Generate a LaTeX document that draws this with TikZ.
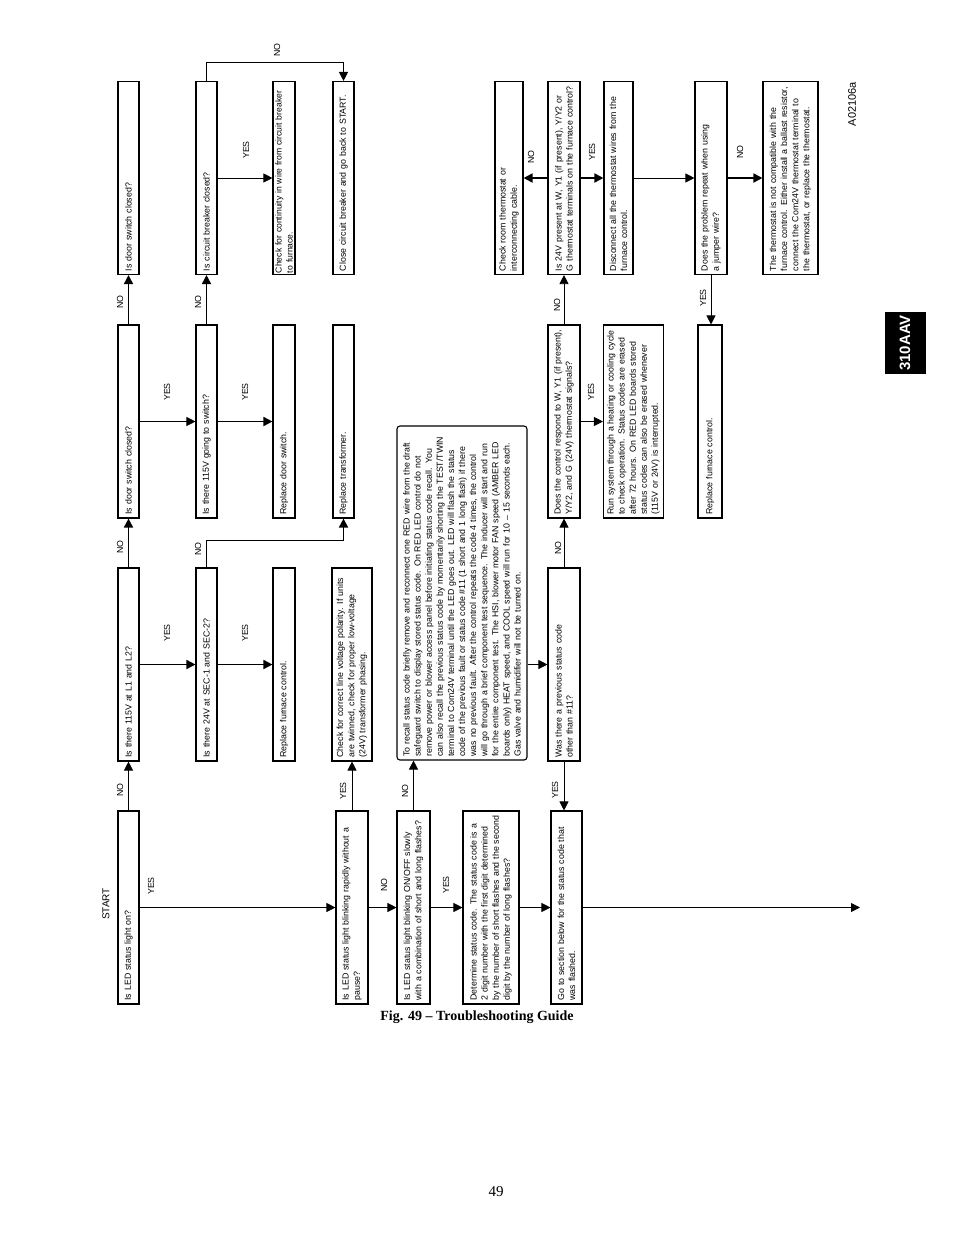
\documentclass[tikz,border=0pt]{standalone}
\usepackage{fontspec}
\setmainfont{Liberation Sans}
\newfontfamily\capserif{Liberation Serif}
\usetikzlibrary{arrows.meta}
\tikzset{>={Triangle[length=9pt,width=9pt]}}
\newcommand{\flowfont}{\fontsize{8.8}{11.1}\selectfont}
\tikzset{
  box/.style={draw,rotate=90,line width=1.1pt,text width=186pt,inner xsep=3.5pt,inner ysep=0pt,align=left,font=\flowfont},
  lab/.style={rotate=90,font=\flowfont,inner sep=0pt},
  arr/.style={->,line width=0.8pt},
  arrbold/.style={->,line width=1.7pt},
}
\begin{document}
\begin{tikzpicture}[x=1pt,y=1pt]
  \useasboundingbox (0,0) rectangle (954,-1235);

  % power checks
  \node[box,minimum height=21pt] (q1) at (128.5,-907.5) {Is LED status light on?};
  \node[box,minimum height=21pt] (q2) at (128.5,-664.5) {Is there 115V at L1 and L2?};
  \node[box,minimum height=21pt] (q3) at (128.5,-421.5) {Is door switch closed?};
  \node[box,minimum height=21pt] (q4) at (128.5,-178) {Is door switch closed?};
  \node[box,minimum height=21pt] (q5) at (206.5,-664.5) {Is there 24V at SEC-1 and SEC-2?};
  \node[box,minimum height=21pt] (q6) at (206.5,-421.5) {Is there 115V going to switch?};
  \node[box,minimum height=21pt] (q7) at (206.5,-178) {Is circuit breaker closed?};
  \node[box,minimum height=22pt] (r1) at (284,-664.5) {Replace furnace control.};
  \node[box,minimum height=22pt] (r2) at (284,-421.5) {Replace door switch.};
  \node[box,minimum height=22pt,text width=190pt,inner xsep=1.5pt,font=\fontsize{8.6}{11}\selectfont] (r3) at (284,-178) {Check for continuity in wire from circuit breaker\\to furnace.};
  \node[box,minimum height=40pt] (r4) at (352,-664.5) {Check for correct line voltage polarity.  If units\\are twinned, check for proper low-voltage\\(24V) transformer phasing.};
  \node[box,minimum height=21pt] (r5) at (343.5,-421.5) {Replace transformer.};
  \node[box,minimum height=21pt] (r6) at (343.5,-178) {Close circuit breaker and go back to START.};

  % blinking codes
  \node[box,minimum height=32pt] (q8) at (352,-907.5) {Is LED status light blinking rapidly without a\\pause?};
  \node[box,minimum height=33pt] (q9) at (413.5,-907.5) {Is LED status light blinking ON/OFF slowly\\with a combination of short and long flashes?};
  \node[box,text width=327pt,minimum height=130pt,rounded corners=3pt] (recall) at (462,-593) {To recall status code briefly remove and reconnect one RED wire from the draft\\safeguard switch to display stored status code.  On RED LED control do not\\remove power or blower access panel before initiating status code recall.  You\\can also recall the previous status code by momentarily shorting the TEST/TWIN\\terminal to Com24V terminal until the LED goes out.  LED will flash the status\\code of the previous fault or status code \#11 (1 short and 1 long flash) if there\\was no previous fault.  After the control repeats the code 4 times, the control\\will go through a brief component test sequence.  The inducer will start and run\\for the entire component test.  The HSI, blower motor FAN speed (AMBER LED\\boards only) HEAT speed, and COOL speed will run for 10 \textendash{} 15 seconds each.\\Gas valve and humidifier will not be turned on.};
  \node[box,minimum height=56pt] (r7) at (491,-907.5) {Determine status code.  The status code is a\\2 digit number with the first digit determined\\by the number of short flashes and the second\\digit by the number of long flashes?};
  \node[box,minimum height=31pt] (r9) at (566.5,-907.5) {Go to section below for the status code that\\was flashed.};
  \node[box,minimum height=32pt] (q10) at (564,-664.5) {Was there a previous status code\\other than \#11?};

  % thermostat checks
  \node[box,minimum height=32pt] (q11) at (564,-421.5) {Does the control respond to W, Y1 (if present),\\Y/Y2, and G (24V)  thermostat signals?};
  \node[box,minimum height=32pt] (q12) at (564,-178) {Is 24V present at W, Y1 (if present), Y/Y2 or\\G thermostat terminals on the furnace control?};
  \node[box,minimum height=28pt] (r8) at (509,-178) {Check room thermostat or\\interconnecting cable.};
  \node[box,minimum height=60pt] (r10) at (633.5,-421.5) {Run system through a heating or cooling cycle\\to check operation.  Status codes are erased\\after 72 hours.  On RED LED boards stored\\status codes can also be erased whenever\\(115V or 24V) is interrupted.};
  \node[box,minimum height=29pt] (r11) at (618.5,-178) {Disconnect all the thermostat wires from the\\furnace control.};
  \node[box,minimum height=24pt] (r12) at (710,-421.5) {Replace furnace control.};
  \node[box,minimum height=32pt] (q13) at (711,-178) {Does the problem repeat when using\\a jumper wire?};
  \node[box,minimum height=55pt] (r13) at (790.5,-178) {The thermostat is not compatible with the\\furnace control.  Either install a ballast resistor,\\connect the Com24V thermostat terminal to\\the thermostat, or replace the thermostat.};

  \node[lab,font=\fontsize{10}{12}\selectfont] (start) at (106,-904) {START};
  \coordinate (tail) at (860,-903);

  % connectors
  \draw[arr] (q1) -- (q2);
  \draw[arrbold] (q2) -- (q3);
  \draw[arrbold] (q3) -- (q4);
  \draw[arr] (q1) -- (q8);
  \draw[arrbold] (q2) -- (q5);
  \draw[arrbold] (q5) -- (r1);
  \draw[arrbold] (q5.east) -- ++(0,27) -| (r5);
  \draw[arr] (q3) -- (q6);
  \draw[arrbold] (q6) -- (r2);
  \draw[arrbold] (q6) -- (q7);
  \draw[arr] (q7) -- (r3);
  \draw[arr] (q7.east) -- ++(0,19) -| (r6);
  \draw[arr] (q8) -- (q8 |- r4.west);
  \draw[arr] (q8) -- (q9);
  \draw[arr] (q9) -- (q9 |- recall.west);
  \draw[arr] (q9) -- (r7);
  \draw[arr] (r7) -- (r9);
  \draw[arr] (q10 -| recall.south) -- (q10);
  \draw[arr] (q10) -- (q10 |- r9.east);
  \draw[arr] (q10) -- (q11);
  \draw[arr] (q11) -- (r10);
  \draw[arr] (q11) -- (q12);
  \draw[arrbold] (q12) -- (r8);
  \draw[arrbold] (q12) -- (r11);
  \draw[arr] (r11) -- (q13);
  \draw[arr] (q13) -- (q13 |- r12.east);
  \draw[arrbold] (q13) -- (r13);
  \draw[arr] (r9) -- (r9 -| tail);

  % YES / NO labels
  \node[lab] (n1) at (120,-790) {NO};
  \node[lab] (n2) at (120,-547) {NO};
  \node[lab] (n3) at (120,-302) {NO};
  \node[lab] (y1) at (151,-886) {YES};
  \node[lab] (y2) at (167,-633) {YES};
  \node[lab] (y3) at (245,-633) {YES};
  \node[lab] (n4) at (198,-549) {NO};
  \node[lab] (y4) at (167,-392) {YES};
  \node[lab] (y5) at (245,-392) {YES};
  \node[lab] (n5) at (198,-302) {NO};
  \node[lab] (y6) at (246,-150) {YES};
  \node[lab] (n6) at (277,-50) {NO};
  \node[lab] (y7) at (343,-791) {YES};
  \node[lab] (n7) at (384,-885) {NO};
  \node[lab] (n8) at (405,-791) {NO};
  \node[lab] (y8) at (446,-885) {YES};
  \node[lab] (y9) at (555,-790) {YES};
  \node[lab] (n9) at (558,-548) {NO};
  \node[lab] (y10) at (591,-392) {YES};
  \node[lab] (n10) at (557,-305) {NO};
  \node[lab] (n11) at (531,-157) {NO};
  \node[lab] (y11) at (592,-152) {YES};
  \node[lab] (y12) at (703,-298) {YES};
  \node[lab] (n12) at (740,-152) {NO};

  % page furniture
  \node[lab,font=\fontsize{11}{13}\selectfont] (fignum) at (852,-104) {A02106a};
  \node[rotate=90,fill=black,text=white,font=\bfseries\fontsize{15}{17}\selectfont,minimum width=62pt,minimum height=41pt,inner sep=0pt] (tag) at (905,-343) {310AAV};
  \node[font=\capserif\bfseries\fontsize{14}{16}\selectfont] (caption) at (477,-1017) {Fig. 49 \textendash{} Troubleshooting Guide};
  \node[font=\capserif\fontsize{15}{17}\selectfont] (page) at (496,-1192) {49};
\end{tikzpicture}
\end{document}
